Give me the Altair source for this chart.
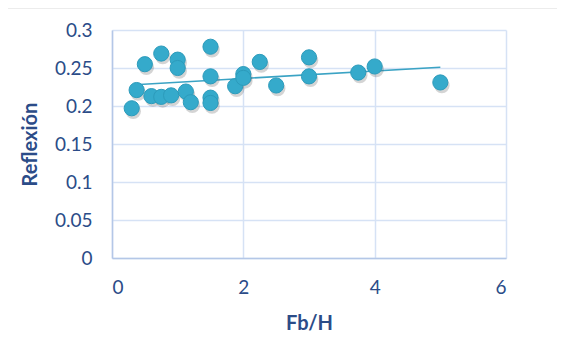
import altair as alt
import pandas as pd

fbh = [0.3, 0.375, 0.5, 0.6, 0.75, 0.75, 0.9, 1.0, 1.0, 1.125, 1.2, 1.5, 1.5, 1.5, 1.5,
       1.875, 2.0, 2.0, 2.25, 2.5, 3.0, 3.0, 3.75, 4.0, 5.0]
reflexion = [0.197, 0.221, 0.255, 0.213, 0.269, 0.212, 0.214, 0.261, 0.250, 0.219, 0.205,
             0.278, 0.239, 0.211, 0.204, 0.226, 0.242, 0.237, 0.258, 0.227, 0.264, 0.239,
             0.244, 0.252, 0.231]
trend_x = [0.35, 5.0]
trend_y = [0.228, 0.251]

pts = pd.DataFrame({"Fb/H": fbh, "Reflexión": reflexion})
trend = pd.DataFrame({"Fb/H": trend_x, "Reflexión": trend_y})

FONT = "Lato"
TEXT = "#2B4C88"

xscale = alt.Scale(domain=[0, 6], nice=False)
yscale = alt.Scale(domain=[0, 0.3], nice=False)

xaxis = alt.Axis(values=[0, 2, 4, 6], title="Fb/H", format="~f", labelPadding=20,
                 titlePadding=16)
yaxis = alt.Axis(values=[0, 0.05, 0.1, 0.15, 0.2, 0.25, 0.3], title="Reflexión",
                 format="~f", labelPadding=20, titlePadding=14)

frame = alt.Chart(pd.DataFrame({"a": [0]})).mark_rect(
    fill=None, stroke="#D9D9D9", strokeWidth=1
).encode(x=alt.value(-106), x2=alt.value(460), y=alt.value(-22), y2=alt.value(330))

line = alt.Chart(trend).mark_line(color="#3BA3C4", strokeWidth=1.6).encode(
    x=alt.X("Fb/H:Q", scale=xscale, axis=xaxis),
    y=alt.Y("Reflexión:Q", scale=yscale, axis=yaxis),
)

shadow = alt.Chart(pts).mark_circle(size=240, opacity=0.25, color="#555555",
                                    xOffset=1.5, yOffset=3).encode(
    x=alt.X("Fb/H:Q", scale=xscale, axis=xaxis),
    y=alt.Y("Reflexión:Q", scale=yscale, axis=yaxis),
)

points = alt.Chart(pts).mark_circle(size=230, opacity=1, color="#35AACB",
                                    stroke="#2C9BBB", strokeWidth=1).encode(
    x=alt.X("Fb/H:Q", scale=xscale, axis=xaxis),
    y=alt.Y("Reflexión:Q", scale=yscale, axis=yaxis),
)

chart = alt.layer(frame, line, shadow, points).properties(
    width=394, height=228,
    autosize=alt.AutoSizeParams(type="none"),
    padding={"left": 104, "top": 22, "right": 51, "bottom": 80},
).configure(
    background="white",
    view=alt.ViewConfig(stroke=None),
    axis=alt.AxisConfig(
        gridColor="#D6E2F5", gridWidth=1.5, ticks=False,
        domainColor="#B4C7E7", domainWidth=1.5,
        labelFont=FONT, labelFontSize=19, labelColor=TEXT,
        titleFont=FONT, titleFontSize=20, titleFontWeight="bold", titleColor=TEXT,
    ),
)

chart.save("out.html", embed_options={"renderer": "svg", "actions": False})
